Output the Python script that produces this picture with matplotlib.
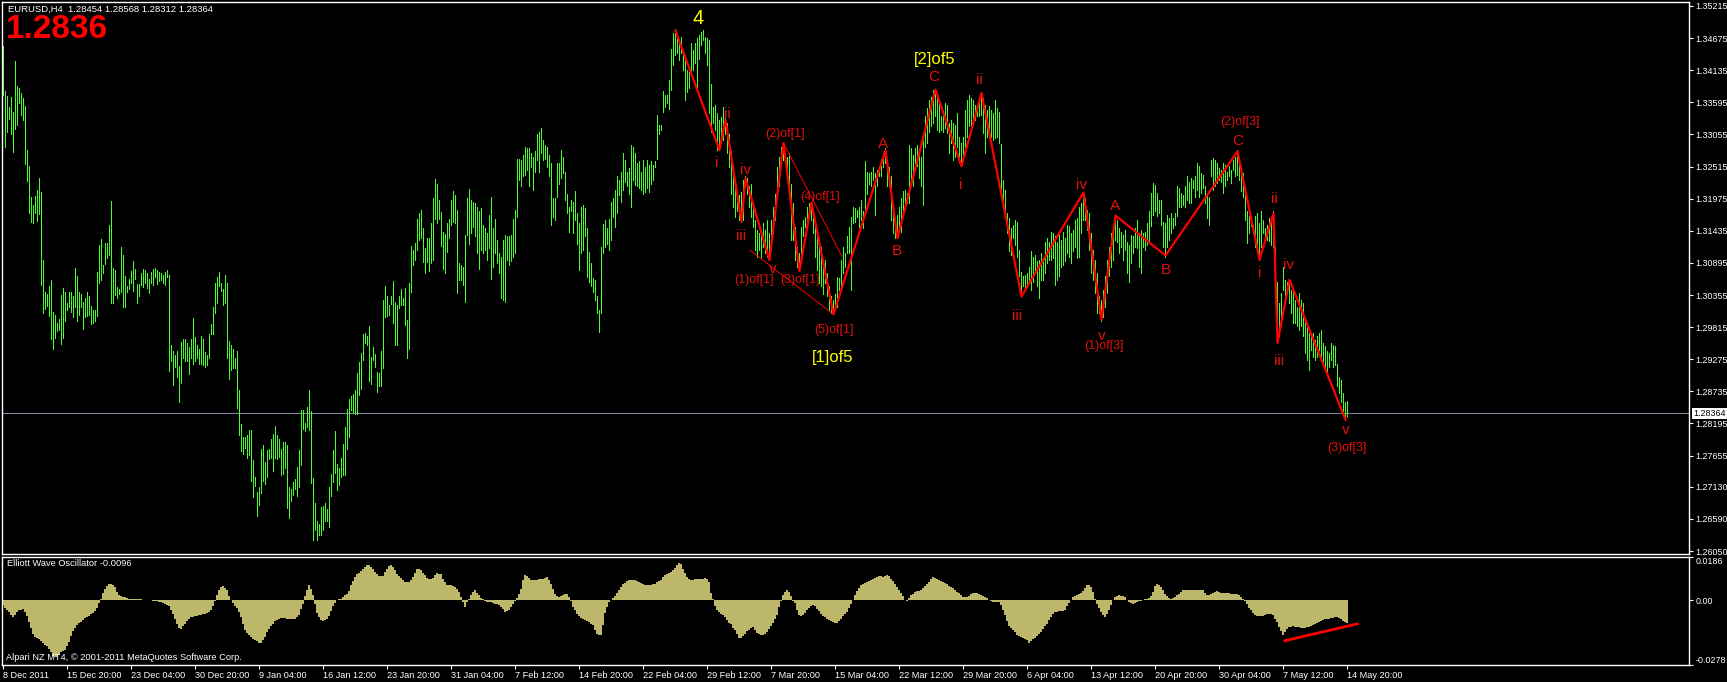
import numpy as np
import matplotlib
matplotlib.use("Agg")
import matplotlib.pyplot as plt

plt.rcParams['font.family'] = ['Liberation Sans', 'DejaVu Sans']

# EURUSD H4 bars (one value per bar, left to right)
high = [
    1.3454, 1.3378, 1.3370, 1.3352, 1.3369, 1.3344, 1.3429, 1.3387, 1.3383, 1.3376,
    1.3366, 1.3353, 1.3279, 1.3252, 1.3201, 1.3187, 1.3202, 1.3212, 1.3232, 1.3209,
    1.3095, 1.3041, 1.3037, 1.3050, 1.3060, 1.3007, 1.3002, 1.2989, 1.2995, 1.3035,
    1.3048, 1.3041, 1.3022, 1.3041, 1.3041, 1.3034, 1.3081, 1.3067, 1.3040, 1.3038,
    1.3024, 1.3031, 1.3041, 1.3033, 1.3017, 1.3011, 1.3011, 1.3074, 1.3119, 1.3129,
    1.3086, 1.3123, 1.3123, 1.3153, 1.3193, 1.3081, 1.3077, 1.3049, 1.3046, 1.3116,
    1.3103, 1.3067, 1.3050, 1.3063, 1.3076, 1.3093, 1.3080, 1.3054, 1.3054, 1.3073,
    1.3080, 1.3077, 1.3073, 1.3063, 1.3075, 1.3079, 1.3081, 1.3077, 1.3075, 1.3072,
    1.3069, 1.3075, 1.3077, 1.3069, 1.2951, 1.2941, 1.2934, 1.2941, 1.2916, 1.2956,
    1.2962, 1.2961, 1.2954, 1.2948, 1.2962, 1.2996, 1.2965, 1.2951, 1.2944, 1.2966,
    1.2962, 1.2940, 1.2934, 1.2970, 1.2986, 1.3016, 1.3056, 1.3065, 1.3074, 1.3055,
    1.3046, 1.3069, 1.3055, 1.2958, 1.2951, 1.2944, 1.2930, 1.2941, 1.2876, 1.2818,
    1.2796, 1.2796, 1.2800, 1.2809, 1.2808, 1.2758, 1.2730, 1.2705, 1.2713, 1.2777,
    1.2783, 1.2755, 1.2775, 1.2777, 1.2793, 1.2802, 1.2815, 1.2800, 1.2793, 1.2776,
    1.2789, 1.2789, 1.2783, 1.2713, 1.2710, 1.2721, 1.2726, 1.2747, 1.2775, 1.2842,
    1.2842, 1.2820, 1.2848, 1.2876, 1.2841, 1.2727, 1.2686, 1.2656, 1.2651, 1.2679,
    1.2680, 1.2686, 1.2675, 1.2713, 1.2735, 1.2775, 1.2807, 1.2752, 1.2745, 1.2761,
    1.2785, 1.2814, 1.2844, 1.2861, 1.2866, 1.2869, 1.2876, 1.2905, 1.2923, 1.2938,
    1.2970, 1.2971, 1.2966, 1.2983, 1.2932, 1.2948, 1.2936, 1.2906, 1.2905, 1.2942,
    1.3027, 1.3050, 1.3034, 1.3018, 1.3034, 1.3059, 1.3024, 1.3018, 1.3034, 1.3045,
    1.3030, 1.3048, 1.2993, 1.3056, 1.3118, 1.3111, 1.3123, 1.3164, 1.3174, 1.3179,
    1.3149, 1.3115, 1.3132, 1.3132, 1.3157, 1.3198, 1.3230, 1.3223, 1.3195, 1.3175,
    1.3142, 1.3138, 1.3156, 1.3164, 1.3195, 1.3210, 1.3203, 1.3178, 1.3089, 1.3086,
    1.3083, 1.3136, 1.3198, 1.3213, 1.3195, 1.3192, 1.3190, 1.3184, 1.3176, 1.3181,
    1.3153, 1.3148, 1.3139, 1.3170, 1.3201, 1.3148, 1.3164, 1.3128, 1.3106, 1.3100,
    1.3128, 1.3136, 1.3134, 1.3134, 1.3136, 1.3164, 1.3178, 1.3265, 1.3265, 1.3263,
    1.3271, 1.3285, 1.3282, 1.3282, 1.3274, 1.3268, 1.3277, 1.3307, 1.3310, 1.3316,
    1.3296, 1.3288, 1.3285, 1.3271, 1.3257, 1.3198, 1.3198, 1.3257, 1.3257, 1.3280,
    1.3268, 1.3243, 1.3206, 1.3184, 1.3195, 1.3192, 1.3211, 1.3173, 1.3156, 1.3184,
    1.3187, 1.3181, 1.3148, 1.3108, 1.3089, 1.3064, 1.3061, 1.3033, 1.3010, 1.3117,
    1.3155, 1.3162, 1.3148, 1.3164, 1.3192, 1.3198, 1.3212, 1.3235, 1.3229, 1.3243,
    1.3274, 1.3263, 1.3243, 1.3249, 1.3288, 1.3285, 1.3274, 1.3257, 1.3260, 1.3243,
    1.3263, 1.3251, 1.3263, 1.3254, 1.3260, 1.3254, 1.3260, 1.3338, 1.3321, 1.3321,
    1.3378, 1.3372, 1.3372, 1.3397, 1.3450, 1.3476, 1.3482, 1.3467, 1.3459, 1.3470,
    1.3445, 1.3431, 1.3414, 1.3411, 1.3459, 1.3448, 1.3459, 1.3467, 1.3473, 1.3478,
    1.3481, 1.3470, 1.3467, 1.3464, 1.3391, 1.3352, 1.3355, 1.3341, 1.3330, 1.3335,
    1.3352, 1.3333, 1.3324, 1.3307, 1.3277, 1.3240, 1.3220, 1.3206, 1.3204, 1.3209,
    1.3229, 1.3235, 1.3232, 1.3218, 1.3223, 1.3190, 1.3162, 1.3145, 1.3139, 1.3134,
    1.3156, 1.3145, 1.3162, 1.3139, 1.3162, 1.3184, 1.3206, 1.3251, 1.3268, 1.3285,
    1.3291, 1.3274, 1.3268, 1.3274, 1.3223, 1.3190, 1.3150, 1.3117, 1.3106, 1.3150,
    1.3162, 1.3167, 1.3184, 1.3190, 1.3191, 1.3178, 1.3162, 1.3134, 1.3122, 1.3117,
    1.3089, 1.3094, 1.3072, 1.3050, 1.3033, 1.3027, 1.3038, 1.3066, 1.3064, 1.3094,
    1.3117, 1.3106, 1.3134, 1.3150, 1.3167, 1.3184, 1.3181, 1.3178, 1.3184, 1.3195,
    1.3176, 1.3260, 1.3243, 1.3240, 1.3243, 1.3251, 1.3240, 1.3246, 1.3249, 1.3265,
    1.3274, 1.3282, 1.3257, 1.3251, 1.3235, 1.3173, 1.3150, 1.3170, 1.3184, 1.3198,
    1.3210, 1.3212, 1.3207, 1.3288, 1.3282, 1.3271, 1.3282, 1.3288, 1.3277, 1.3268,
    1.3296, 1.3336, 1.3350, 1.3364, 1.3369, 1.3380, 1.3380, 1.3369, 1.3361, 1.3336,
    1.3341, 1.3358, 1.3355, 1.3324, 1.3330, 1.3324, 1.3322, 1.3341, 1.3302, 1.3291,
    1.3302, 1.3347, 1.3364, 1.3372, 1.3367, 1.3364, 1.3355, 1.3350, 1.3367, 1.3375,
    1.3367, 1.3355, 1.3347, 1.3353, 1.3347, 1.3341, 1.3364, 1.3350, 1.3344, 1.3290,
    1.3229, 1.3212, 1.3173, 1.3165, 1.3148, 1.3154, 1.3162, 1.3159, 1.3112, 1.3075,
    1.3067, 1.3069, 1.3072, 1.3083, 1.3109, 1.3100, 1.3103, 1.3092, 1.3095, 1.3106,
    1.3095, 1.3125, 1.3131, 1.3125, 1.3142, 1.3139, 1.3134, 1.3125, 1.3137, 1.3128,
    1.3142, 1.3131, 1.3154, 1.3151, 1.3139, 1.3145, 1.3162, 1.3165, 1.3184, 1.3190,
    1.3207, 1.3198, 1.3179, 1.3173, 1.3139, 1.3112, 1.3095, 1.3072, 1.3033, 1.3027,
    1.3044, 1.3067, 1.3095, 1.3117, 1.3139, 1.3154, 1.3170, 1.3162, 1.3148, 1.3142,
    1.3137, 1.3145, 1.3125, 1.3120, 1.3137, 1.3134, 1.3148, 1.3161, 1.3139, 1.3145,
    1.3139, 1.3142, 1.3156, 1.3176, 1.3207, 1.3224, 1.3221, 1.3207, 1.3196, 1.3196,
    1.3159, 1.3156, 1.3170, 1.3165, 1.3173, 1.3165, 1.3173, 1.3218, 1.3215, 1.3207,
    1.3204, 1.3218, 1.3235, 1.3226, 1.3232, 1.3229, 1.3235, 1.3257, 1.3252, 1.3240,
    1.3238, 1.3218, 1.3207, 1.3201, 1.3263, 1.3266, 1.3263, 1.3257, 1.3249, 1.3246,
    1.3257, 1.3254, 1.3243, 1.3252, 1.3246, 1.3263, 1.3268, 1.3280, 1.3268, 1.3243,
    1.3240, 1.3212, 1.3176, 1.3168, 1.3162, 1.3154, 1.3168, 1.3173, 1.3156, 1.3176,
    1.3162, 1.3148, 1.3154, 1.3165, 1.3162, 1.3176, 1.3117, 1.3058, 1.3022, 1.3039,
    1.3083, 1.3061, 1.3058, 1.3061, 1.3044, 1.3044, 1.3027, 1.3016, 1.3039, 1.3027,
    1.3022, 1.2994, 1.2983, 1.2971, 1.2966, 1.2971, 1.2960, 1.2966, 1.2971, 1.2977,
    1.2955, 1.2949, 1.2941, 1.2938, 1.2955, 1.2952, 1.2949, 1.2920, 1.2898, 1.2893,
    1.2870, 1.2856, 1.2857,
]
low = [
    1.3372, 1.3285, 1.3310, 1.3332, 1.3307, 1.3276, 1.3314, 1.3321, 1.3359, 1.3339,
    1.3330, 1.3255, 1.3228, 1.3174, 1.3159, 1.3157, 1.3173, 1.3160, 1.3171, 1.3053,
    1.3006, 1.3012, 1.3017, 1.3001, 1.2962, 1.2944, 1.2964, 1.2975, 1.2976, 1.2953,
    1.2964, 1.2992, 1.3011, 1.3016, 1.3007, 1.2999, 1.3016, 1.2992, 1.3002, 1.3016,
    1.2979, 1.2999, 1.3000, 1.3002, 1.2987, 1.2989, 1.2992, 1.3000, 1.3056, 1.3060,
    1.3072, 1.3087, 1.3098, 1.3103, 1.3022, 1.3022, 1.3035, 1.3031, 1.3038, 1.3041,
    1.3015, 1.3015, 1.3041, 1.3046, 1.3055, 1.3043, 1.3063, 1.3022, 1.3033, 1.3052,
    1.3049, 1.3055, 1.3048, 1.3039, 1.3055, 1.3052, 1.3066, 1.3054, 1.3059, 1.3060,
    1.3055, 1.3052, 1.3065, 1.2908, 1.2924, 1.2885, 1.2914, 1.2898, 1.2855, 1.2887,
    1.2930, 1.2925, 1.2925, 1.2902, 1.2929, 1.2920, 1.2924, 1.2929, 1.2919, 1.2920,
    1.2918, 1.2914, 1.2918, 1.2929, 1.2970, 1.2970, 1.3006, 1.3022, 1.3050, 1.3042,
    1.3018, 1.3022, 1.2929, 1.2895, 1.2909, 1.2912, 1.2912, 1.2845, 1.2800, 1.2773,
    1.2768, 1.2779, 1.2761, 1.2766, 1.2723, 1.2696, 1.2714, 1.2664, 1.2682, 1.2702,
    1.2723, 1.2718, 1.2730, 1.2759, 1.2761, 1.2740, 1.2761, 1.2759, 1.2763, 1.2733,
    1.2735, 1.2744, 1.2678, 1.2660, 1.2689, 1.2699, 1.2710, 1.2697, 1.2713, 1.2749,
    1.2811, 1.2806, 1.2814, 1.2809, 1.2720, 1.2623, 1.2640, 1.2623, 1.2632, 1.2632,
    1.2640, 1.2656, 1.2656, 1.2646, 1.2697, 1.2721, 1.2736, 1.2708, 1.2716, 1.2729,
    1.2733, 1.2733, 1.2777, 1.2797, 1.2842, 1.2839, 1.2836, 1.2835, 1.2867, 1.2877,
    1.2926, 1.2954, 1.2951, 1.2891, 1.2886, 1.2927, 1.2914, 1.2873, 1.2882, 1.2882,
    1.2912, 1.2999, 1.3000, 1.3002, 1.3020, 1.2989, 1.2951, 1.2951, 1.3013, 1.3018,
    1.3018, 1.2985, 1.2929, 1.2944, 1.3041, 1.3086, 1.3094, 1.3112, 1.3128, 1.3131,
    1.3091, 1.3073, 1.3091, 1.3076, 1.3089, 1.3094, 1.3164, 1.3156, 1.3164, 1.3118,
    1.3080, 1.3073, 1.3108, 1.3131, 1.3153, 1.3159, 1.3156, 1.3039, 1.3060, 1.3061,
    1.3052, 1.3023, 1.3136, 1.3122, 1.3139, 1.3150, 1.3134, 1.3106, 1.3080, 1.3111,
    1.3106, 1.3111, 1.3094, 1.3114, 1.3063, 1.3083, 1.3106, 1.3089, 1.3072, 1.3030,
    1.3027, 1.3024, 1.3094, 1.3086, 1.3092, 1.3100, 1.3106, 1.3167, 1.3229, 1.3218,
    1.3235, 1.3237, 1.3246, 1.3218, 1.3251, 1.3212, 1.3243, 1.3263, 1.3243, 1.3274,
    1.3263, 1.3265, 1.3251, 1.3235, 1.3153, 1.3167, 1.3162, 1.3201, 1.3223, 1.3232,
    1.3240, 1.3195, 1.3173, 1.3142, 1.3176, 1.3139, 1.3162, 1.3122, 1.3078, 1.3106,
    1.3111, 1.3134, 1.3066, 1.3058, 1.3050, 1.3041, 1.3027, 1.3005, 1.2974, 1.3005,
    1.3106, 1.3117, 1.3122, 1.3111, 1.3128, 1.3167, 1.3150, 1.3173, 1.3204, 1.3192,
    1.3212, 1.3226, 1.3218, 1.3206, 1.3184, 1.3229, 1.3220, 1.3218, 1.3215, 1.3212,
    1.3206, 1.3209, 1.3215, 1.3209, 1.3223, 1.3229, 1.3251, 1.3265, 1.3307, 1.3313,
    1.3344, 1.3352, 1.3358, 1.3349, 1.3380, 1.3422, 1.3439, 1.3442, 1.3431, 1.3442,
    1.3414, 1.3363, 1.3377, 1.3383, 1.3405, 1.3414, 1.3425, 1.3386, 1.3433, 1.3456,
    1.3464, 1.3442, 1.3422, 1.3341, 1.3310, 1.3324, 1.3313, 1.3279, 1.3282, 1.3302,
    1.3296, 1.3307, 1.3274, 1.3251, 1.3206, 1.3184, 1.3167, 1.3176, 1.3162, 1.3159,
    1.3162, 1.3218, 1.3206, 1.3184, 1.3167, 1.3150, 1.3111, 1.3100, 1.3111, 1.3100,
    1.3117, 1.3106, 1.3100, 1.3094, 1.3134, 1.3139, 1.3162, 1.3206, 1.3218, 1.3257,
    1.3263, 1.3257, 1.3235, 1.3218, 1.3128, 1.3128, 1.3094, 1.3083, 1.3076, 1.3100,
    1.3134, 1.3150, 1.3156, 1.3173, 1.3162, 1.3139, 1.3100, 1.3078, 1.3055, 1.3050,
    1.3038, 1.3055, 1.3033, 1.3010, 1.3005, 1.3003, 1.3010, 1.3016, 1.3044, 1.3050,
    1.3072, 1.3083, 1.3106, 1.3106, 1.3044, 1.3156, 1.3159, 1.3167, 1.3150, 1.3162,
    1.3148, 1.3173, 1.3206, 1.3223, 1.3218, 1.3229, 1.3170, 1.3218, 1.3235, 1.3235,
    1.3251, 1.3257, 1.3218, 1.3218, 1.3162, 1.3139, 1.3131, 1.3139, 1.3145, 1.3142,
    1.3173, 1.3184, 1.3190, 1.3190, 1.3224, 1.3218, 1.3246, 1.3252, 1.3232, 1.3218,
    1.3187, 1.3285, 1.3291, 1.3310, 1.3319, 1.3324, 1.3336, 1.3313, 1.3310, 1.3313,
    1.3310, 1.3316, 1.3308, 1.3274, 1.3291, 1.3263, 1.3268, 1.3285, 1.3263, 1.3252,
    1.3268, 1.3285, 1.3302, 1.3319, 1.3319, 1.3327, 1.3330, 1.3336, 1.3336, 1.3339,
    1.3308, 1.3274, 1.3302, 1.3310, 1.3302, 1.3296, 1.3299, 1.3302, 1.3291, 1.3200,
    1.3184, 1.3168, 1.3140, 1.3109, 1.3103, 1.3131, 1.3120, 1.3100, 1.3067, 1.3033,
    1.3050, 1.3044, 1.3050, 1.3061, 1.3044, 1.3058, 1.3072, 1.3050, 1.3030, 1.3061,
    1.3061, 1.3072, 1.3089, 1.3095, 1.3095, 1.3097, 1.3053, 1.3061, 1.3067, 1.3083,
    1.3086, 1.3092, 1.3106, 1.3100, 1.3089, 1.3109, 1.3117, 1.3097, 1.3100, 1.3140,
    1.3162, 1.3162, 1.3145, 1.3112, 1.3072, 1.3061, 1.3039, 1.3005, 1.3005, 1.2991,
    1.2999, 1.3016, 1.3039, 1.3067, 1.3083, 1.3095, 1.3128, 1.3125, 1.3106, 1.3117,
    1.3095, 1.3112, 1.3072, 1.3058, 1.3089, 1.3106, 1.3117, 1.3114, 1.3083, 1.3072,
    1.3117, 1.3112, 1.3120, 1.3123, 1.3151, 1.3170, 1.3176, 1.3168, 1.3173, 1.3154,
    1.3117, 1.3100, 1.3117, 1.3128, 1.3139, 1.3148, 1.3154, 1.3168, 1.3184, 1.3184,
    1.3187, 1.3184, 1.3196, 1.3190, 1.3190, 1.3215, 1.3201, 1.3212, 1.3201, 1.3207,
    1.3215, 1.3190, 1.3165, 1.3154, 1.3235, 1.3212, 1.3218, 1.3224, 1.3229, 1.3226,
    1.3207, 1.3218, 1.3229, 1.3235, 1.3224, 1.3246, 1.3235, 1.3238, 1.3229, 1.3210,
    1.3201, 1.3162, 1.3123, 1.3140, 1.3151, 1.3140, 1.3117, 1.3117, 1.3095, 1.3117,
    1.3140, 1.3126, 1.3128, 1.3126, 1.3120, 1.3117, 1.3067, 1.2955, 1.2966, 1.2983,
    1.3044, 1.3027, 1.3039, 1.3022, 1.3005, 1.2988, 1.2988, 1.2983, 1.2977, 1.2983,
    1.2966, 1.2938, 1.2927, 1.2910, 1.2943, 1.2932, 1.2927, 1.2932, 1.2943, 1.2927,
    1.2921, 1.2910, 1.2901, 1.2915, 1.2927, 1.2915, 1.2918, 1.2882, 1.2870, 1.2856,
    1.2837, 1.2826, 1.2831,
]

# Elliott Wave Oscillator histogram, one value per bar
ewo = [
    -0.0021, -0.0032, -0.0040, -0.0050, -0.0062, -0.0072, -0.0062, -0.0052, -0.0043, -0.0040,
    -0.0036, -0.0050, -0.0066, -0.0093, -0.0119, -0.0143, -0.0158, -0.0162, -0.0168, -0.0175,
    -0.0182, -0.0191, -0.0198, -0.0211, -0.0224, -0.0239, -0.0244, -0.0244, -0.0235, -0.0222,
    -0.0219, -0.0215, -0.0198, -0.0178, -0.0155, -0.0133, -0.0118, -0.0106, -0.0097, -0.0092,
    -0.0083, -0.0077, -0.0073, -0.0069, -0.0060, -0.0053, -0.0046, -0.0032, -0.0011, 0.0004,
    0.0032, 0.0049, 0.0063, 0.0069, 0.0072, 0.0066, 0.0056, 0.0037, 0.0021, 0.0019,
    0.0016, 0.0013, 0.0010, 0.0007, 0.0007, 0.0006, 0.0006, 0.0006, 0.0004, 0.0004,
    0.0003, 0.0003, 0.0001, 0.0001, 0.0000, -0.0001, -0.0001, -0.0003, -0.0006, -0.0007,
    -0.0011, -0.0014, -0.0019, -0.0024, -0.0040, -0.0057, -0.0082, -0.0100, -0.0118, -0.0122,
    -0.0112, -0.0100, -0.0089, -0.0079, -0.0073, -0.0070, -0.0067, -0.0066, -0.0064, -0.0062,
    -0.0060, -0.0059, -0.0056, -0.0049, -0.0040, -0.0023, -0.0003, 0.0021, 0.0043, 0.0057,
    0.0062, 0.0054, 0.0043, 0.0019, 0.0003, -0.0011, -0.0023, -0.0034, -0.0050, -0.0072,
    -0.0100, -0.0129, -0.0140, -0.0150, -0.0158, -0.0165, -0.0169, -0.0175, -0.0183, -0.0182,
    -0.0169, -0.0156, -0.0138, -0.0122, -0.0112, -0.0100, -0.0089, -0.0083, -0.0079, -0.0077,
    -0.0077, -0.0077, -0.0079, -0.0079, -0.0079, -0.0080, -0.0079, -0.0072, -0.0062, -0.0036,
    -0.0014, 0.0017, 0.0046, 0.0064, 0.0050, 0.0021, -0.0014, -0.0054, -0.0072, -0.0086,
    -0.0089, -0.0086, -0.0079, -0.0066, -0.0047, -0.0026, -0.0010, 0.0001, 0.0004, 0.0007,
    0.0014, 0.0021, 0.0029, 0.0040, 0.0067, 0.0083, 0.0100, 0.0112, 0.0119, 0.0126,
    0.0135, 0.0142, 0.0150, 0.0152, 0.0143, 0.0133, 0.0120, 0.0112, 0.0106, 0.0103,
    0.0103, 0.0120, 0.0135, 0.0148, 0.0150, 0.0143, 0.0132, 0.0115, 0.0103, 0.0095,
    0.0089, 0.0080, 0.0077, 0.0079, 0.0089, 0.0100, 0.0117, 0.0136, 0.0135, 0.0129,
    0.0117, 0.0107, 0.0097, 0.0093, 0.0093, 0.0095, 0.0109, 0.0117, 0.0115, 0.0112,
    0.0092, 0.0077, 0.0066, 0.0064, 0.0066, 0.0063, 0.0057, 0.0047, 0.0036, 0.0014,
    -0.0007, -0.0029, -0.0007, 0.0007, 0.0023, 0.0034, 0.0043, 0.0033, 0.0024, 0.0011,
    0.0004, -0.0004, -0.0007, -0.0007, -0.0009, -0.0011, -0.0014, -0.0014, -0.0021, -0.0029,
    -0.0039, -0.0050, -0.0047, -0.0043, -0.0029, -0.0017, -0.0003, 0.0010, 0.0029, 0.0050,
    0.0086, 0.0107, 0.0103, 0.0097, 0.0089, 0.0086, 0.0086, 0.0089, 0.0093, 0.0093,
    0.0093, 0.0096, 0.0100, 0.0086, 0.0072, 0.0050, 0.0029, 0.0019, 0.0014, 0.0019,
    0.0023, 0.0026, 0.0026, 0.0014, -0.0004, -0.0029, -0.0043, -0.0057, -0.0067, -0.0076,
    -0.0082, -0.0086, -0.0089, -0.0093, -0.0100, -0.0107, -0.0126, -0.0143, -0.0150, -0.0150,
    -0.0107, -0.0054, -0.0029, -0.0009, 0.0002, 0.0010, 0.0020, 0.0032, 0.0043, 0.0057,
    0.0070, 0.0076, 0.0082, 0.0086, 0.0087, 0.0089, 0.0086, 0.0083, 0.0077, 0.0073,
    0.0070, 0.0067, 0.0067, 0.0067, 0.0067, 0.0069, 0.0072, 0.0077, 0.0083, 0.0089,
    0.0100, 0.0107, 0.0112, 0.0116, 0.0122, 0.0132, 0.0140, 0.0150, 0.0160, 0.0158,
    0.0136, 0.0118, 0.0100, 0.0092, 0.0089, 0.0089, 0.0092, 0.0093, 0.0093, 0.0093,
    0.0093, 0.0095, 0.0092, 0.0079, 0.0032, 0.0007, -0.0026, -0.0043, -0.0052, -0.0057,
    -0.0064, -0.0072, -0.0083, -0.0096, -0.0103, -0.0118, -0.0129, -0.0143, -0.0161, -0.0161,
    -0.0152, -0.0143, -0.0133, -0.0126, -0.0118, -0.0115, -0.0129, -0.0140, -0.0146, -0.0150,
    -0.0150, -0.0143, -0.0136, -0.0125, -0.0112, -0.0097, -0.0079, -0.0064, -0.0029, -0.0001,
    0.0021, 0.0034, 0.0043, 0.0036, 0.0017, -0.0001, -0.0011, -0.0043, -0.0064, -0.0067,
    -0.0062, -0.0054, -0.0043, -0.0034, -0.0026, -0.0021, -0.0026, -0.0036, -0.0047, -0.0057,
    -0.0066, -0.0072, -0.0079, -0.0083, -0.0090, -0.0095, -0.0097, -0.0097, -0.0089, -0.0079,
    -0.0069, -0.0060, -0.0050, -0.0032, -0.0014, 0.0003, 0.0021, 0.0040, 0.0054, 0.0064,
    0.0072, 0.0076, 0.0080, 0.0083, 0.0089, 0.0093, 0.0097, 0.0102, 0.0103, 0.0103,
    0.0100, 0.0106, 0.0109, 0.0103, 0.0092, 0.0082, 0.0069, 0.0056, 0.0043, 0.0032,
    0.0017, 0.0003, -0.0001, 0.0011, 0.0021, 0.0029, 0.0034, 0.0040, 0.0040, 0.0043,
    0.0054, 0.0062, 0.0072, 0.0079, 0.0093, 0.0100, 0.0097, 0.0092, 0.0086, 0.0083,
    0.0080, 0.0076, 0.0069, 0.0063, 0.0057, 0.0052, 0.0043, 0.0037, 0.0032, 0.0021,
    0.0016, 0.0014, 0.0014, 0.0020, 0.0029, 0.0032, 0.0032, 0.0030, 0.0027, 0.0024,
    0.0020, 0.0014, 0.0009, 0.0003, -0.0003, -0.0006, -0.0007, -0.0007, -0.0009, -0.0021,
    -0.0040, -0.0064, -0.0089, -0.0112, -0.0120, -0.0129, -0.0138, -0.0149, -0.0153, -0.0158,
    -0.0161, -0.0166, -0.0172, -0.0182, -0.0175, -0.0166, -0.0161, -0.0152, -0.0143, -0.0135,
    -0.0123, -0.0112, -0.0100, -0.0086, -0.0072, -0.0060, -0.0050, -0.0049, -0.0047, -0.0046,
    -0.0044, -0.0040, -0.0026, -0.0011, 0.0003, 0.0014, 0.0019, 0.0021, 0.0026, 0.0032,
    0.0040, 0.0053, 0.0064, 0.0067, 0.0057, 0.0036, 0.0007, -0.0014, -0.0032, -0.0052,
    -0.0064, -0.0072, -0.0057, -0.0040, -0.0021, 0.0001, 0.0014, 0.0019, 0.0021, 0.0020,
    0.0017, 0.0013, 0.0003, -0.0007, -0.0011, -0.0014, -0.0010, -0.0006, -0.0003, -0.0001,
    0.0003, 0.0004, 0.0007, 0.0011, 0.0019, 0.0034, 0.0060, 0.0072, 0.0066, 0.0057,
    0.0043, 0.0029, 0.0019, 0.0011, 0.0007, 0.0011, 0.0014, 0.0021, 0.0029, 0.0036,
    0.0043, 0.0046, 0.0046, 0.0046, 0.0046, 0.0046, 0.0046, 0.0044, 0.0043, 0.0043,
    0.0043, 0.0033, 0.0023, 0.0024, 0.0027, 0.0032, 0.0037, 0.0040, 0.0037, 0.0033,
    0.0032, 0.0032, 0.0032, 0.0030, 0.0029, 0.0029, 0.0029, 0.0026, 0.0023, 0.0014,
    0.0006, -0.0003, -0.0017, -0.0034, -0.0043, -0.0053, -0.0062, -0.0067, -0.0069, -0.0069,
    -0.0069, -0.0064, -0.0059, -0.0059, -0.0060, -0.0064, -0.0079, -0.0093, -0.0115, -0.0132,
    -0.0150, -0.0138, -0.0123, -0.0116, -0.0113, -0.0112, -0.0113, -0.0115, -0.0116, -0.0118,
    -0.0119, -0.0118, -0.0116, -0.0113, -0.0109, -0.0105, -0.0102, -0.0097, -0.0093, -0.0089,
    -0.0085, -0.0082, -0.0080, -0.0079, -0.0077, -0.0075, -0.0073, -0.0073, -0.0076, -0.0082,
    -0.0088, -0.0092, -0.0096,
]

date_labels = [
    "8 Dec 2011", "15 Dec 20:00", "23 Dec 04:00", "30 Dec 20:00", "9 Jan 04:00",
    "16 Jan 12:00", "23 Jan 20:00", "31 Jan 04:00", "7 Feb 12:00", "14 Feb 20:00",
    "22 Feb 04:00", "29 Feb 12:00", "7 Mar 20:00", "15 Mar 04:00", "22 Mar 12:00",
    "29 Mar 20:00", "6 Apr 04:00", "13 Apr 12:00", "20 Apr 20:00", "30 Apr 04:00",
    "7 May 12:00", "14 May 20:00",
]
price_ticks = [1.35215, 1.34675, 1.34135, 1.33595, 1.33055, 1.32515, 1.31975, 1.31435,
               1.30895, 1.30355, 1.29815, 1.29275, 1.28735, 1.28195, 1.27655, 1.27130,
               1.26590, 1.26050]
price_tick_labels = ["%.5f" % p for p in price_ticks]
bid = 1.28364

# Elliott wave count drawn on the chart (bar index, price)
wave_bar = [336, 358, 361, 369, 371, 383, 390, 398, 404, 415, 441, 447,
            466, 479, 489, 509, 540, 549, 556, 581, 617, 628, 635, 637, 643, 671]
wave_price = [1.3480, 1.3279, 1.3330, 1.3159, 1.3232, 1.3094, 1.3291, 1.3076, 1.3191,
              1.3003, 1.3279, 1.3131, 1.3381, 1.3252, 1.3375, 1.3033, 1.3208, 1.2994,
              1.3169, 1.3102, 1.3277, 1.3095, 1.3173, 1.2955, 1.3061, 1.2826]
channel_upper = ([390, 419.3], [1.3291, 1.3100])
channel_lower = ([373.2, 415], [1.3111, 1.3003])
ewo_divergence = ([640, 677.5], [-0.0175, -0.0100])

wave_labels = [
    ("ii", 361.8, 1.3340), ("i", 356.8, 1.3258), ("iv", 371.0, 1.3245),
    ("iii", 368.8, 1.3135), ("v", 384.7, 1.3080), ("A", 439.8, 1.3290),
    ("B", 446.8, 1.3110), ("C", 465.2, 1.3402), ("i", 478.8, 1.3221),
    ("ii", 488.0, 1.3397), ("iii", 506.8, 1.3000), ("iv", 539.0, 1.3221),
    ("v", 549.0, 1.2966), ("A", 556.0, 1.3186), ("B", 581.0, 1.3078),
    ("C", 617.2, 1.3295), ("i", 628.2, 1.3072), ("ii", 635.2, 1.3197),
    ("iii", 638.0, 1.2924), ("iv", 642.7, 1.3086), ("v", 671.0, 1.2809),
]
degree_labels = [
    ("(1)of[1]", 375.2, 1.3060), ("(2)of[1]", 391.0, 1.3306), ("(3)of[1]", 398.2, 1.3061),
    ("(4)of[1]", 408.2, 1.3201), ("(5)of[1]", 415.2, 1.2977), ("(1)of[3]", 550.2, 1.2949),
    ("(2)of[3]", 618.2, 1.3327), ("(3)of[3]", 671.8, 1.2778),
]
major_labels = [("4", 347.5, 1.3501, 14.5), ("[2]of5", 465.7, 1.3432, 12), ("[1]of5", 414.7, 1.2930, 12)]

W, H = 1727, 682


def px_rect(x0, y0, x1, y1):
    return [x0 / W, 1 - y1 / H, (x1 - x0) / W, (y1 - y0) / H]


fig = plt.figure(figsize=(W / 100, H / 100), dpi=100, facecolor='black')
ax = fig.add_axes(px_rect(2, 2, 1689, 554))
osc = fig.add_axes(px_rect(2, 557, 1689, 665))

bars = np.arange(len(high))
txt_col = 'white'
red_lbl = '#e0100c'
# half-pixel shift so each 1px bar sits on a pixel centre
x_lo, x_hi = -0.75, 842.75

# price panel
ax.set_facecolor('black')
ax.vlines(bars, low, high, colors='#44ff2a', linewidth=0.72, antialiased=False, zorder=2)
ax.axhline(bid, color='#7b8a9e', linewidth=0.75, zorder=1)
ax.plot(wave_bar, wave_price, color='red', linewidth=1.6, zorder=3)
ax.plot(*channel_upper, color='red', linewidth=0.7, zorder=3)
ax.plot(*channel_lower, color='red', linewidth=0.7, zorder=3)
for s, x, y in wave_labels:
    ax.text(x, y, s, color=red_lbl, fontsize=11, ha='center', va='center', zorder=4)
for s, x, y in degree_labels:
    ax.text(x, y, s, color=red_lbl, fontsize=9, ha='center', va='center', zorder=4)
for s, x, y, fs in major_labels:
    ax.text(x, y, s, color='#ffff00', fontsize=fs, ha='center', va='center', zorder=4)

ax.set_xlim(x_lo, x_hi)
ax.set_ylim(1.26000, 1.35282)
ax.yaxis.tick_right()
ax.set_yticks(price_ticks)
ax.set_yticklabels(price_tick_labels)
ax.tick_params(axis='y', colors=txt_col, labelcolor=txt_col, length=3, width=0.8,
               pad=1.5, labelsize=6.4, direction='out')
ax.tick_params(axis='x', bottom=False, labelbottom=False, top=False)
for sp in ax.spines.values():
    sp.set_color('white')
    sp.set_linewidth(1.0)
ax.text(1.0026, bid, "%.5f" % bid, transform=ax.get_yaxis_transform(), color='black',
        fontsize=6.4, ha='left', va='center', clip_on=False, zorder=10,
        bbox=dict(boxstyle='square,pad=0.12', fc='white', ec='none'))

# oscillator panel
osc.set_facecolor('black')
osc.bar(bars, ewo, width=1.0, color='#bdb76b', linewidth=0, zorder=2)
osc.plot(*ewo_divergence, color='red', linewidth=2.0, solid_capstyle='butt', zorder=3)
osc.set_xlim(x_lo, x_hi)
osc.set_ylim(-0.0278, 0.0186)
osc.yaxis.tick_right()
osc.set_yticks([0.0186, 0.0, -0.0278])
osc.set_yticklabels(["0.0186", "0.00", "-0.0278"])
osc.tick_params(axis='y', colors=txt_col, labelcolor=txt_col, length=3, width=0.8,
                pad=1.5, labelsize=6.4)
labs = osc.get_yticklabels()
labs[0].set_va('top')
labs[2].set_va('bottom')
osc.set_xticks(np.arange(0, len(high), 32))
osc.set_xticklabels(date_labels, ha='left')
osc.tick_params(axis='x', colors=txt_col, labelcolor=txt_col, length=3, width=0.8,
                pad=1.5, labelsize=6.6)
for sp in osc.spines.values():
    sp.set_color('white')
    sp.set_linewidth(1.0)

# header texts
fig.text(8 / W, 1 - 9 / H, "EURUSD,H4  1.28454 1.28568 1.28312 1.28364",
         color=txt_col, fontsize=6.8, ha='left', va='center')
fig.text(6 / W, 1 - 38 / H, "1.2836", color='#ff0000', fontsize=24,
         fontweight='bold', ha='left', va='baseline')
fig.text(7 / W, 1 - 564 / H, "Elliott Wave Oscillator -0.0096",
         color=txt_col, fontsize=6.7, ha='left', va='center')
fig.text(6 / W, 1 - 658 / H, "Alpari NZ MT4, \u00a9 2001-2011 MetaQuotes Software Corp.",
         color=txt_col, fontsize=6.7, ha='left', va='center')

fig.savefig("out.png", dpi=100, facecolor='black')
